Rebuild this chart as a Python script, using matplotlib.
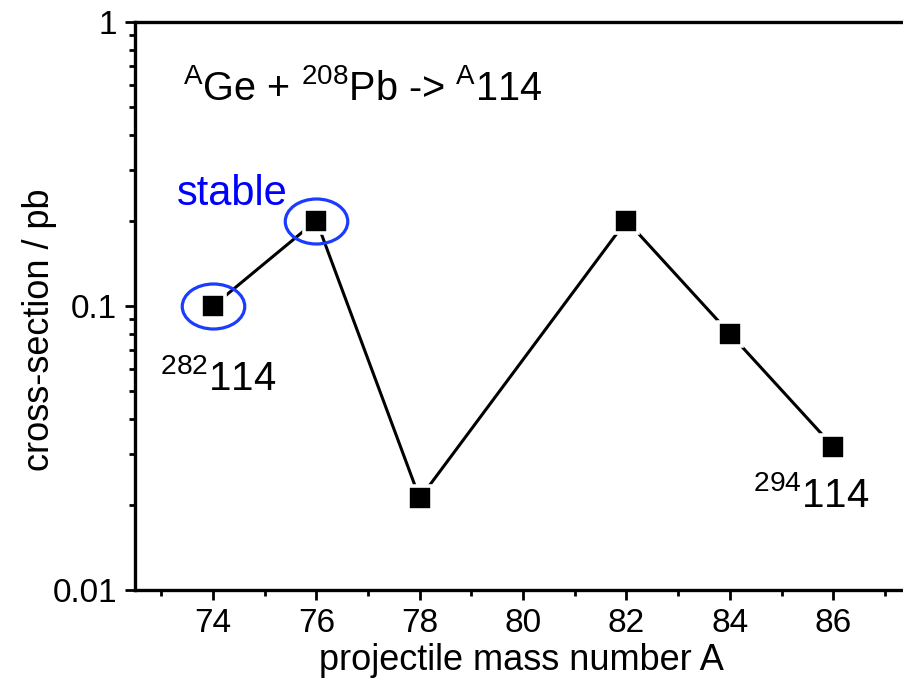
import numpy as np
import matplotlib
matplotlib.use("Agg")
import matplotlib.pyplot as plt
from matplotlib.path import Path
from matplotlib.transforms import Affine2D
from matplotlib.ticker import FixedLocator, LogLocator, NullFormatter

plt.rcParams['font.family'] = ['Liberation Sans', 'DejaVu Sans']
plt.rcParams['mathtext.fontset'] = 'custom'
plt.rcParams['mathtext.rm'] = 'Liberation Sans'
plt.rcParams['mathtext.default'] = 'regular'

# donnees
masse = [74, 76, 78, 82, 84, 86]
section = [0.1, 0.2, 0.021, 0.2, 0.08, 0.032]
stable_masse = [74, 76]
stable_section = [0.1, 0.2]
xticks = [74, 76, 78, 80, 82, 84, 86]

fig = plt.figure(figsize=(9.04, 6.91), dpi=100)
ax = fig.add_axes([135/904, 1-590/691, 1-135/904, 568/691])

# courbe + carres noirs (bord blanc pour le petit espace)
ax.plot(masse, section, '-', color='black', lw=2.2, zorder=2)
ax.plot(masse, section, 's', color='black', ms=17.5, mec='white', mew=2.6, zorder=3)

# ellipses bleues autour des noyaux stables
ell = Path.unit_circle().transformed(Affine2D().scale(1.0, 0.72))
ax.plot(stable_masse, stable_section, ls='none', marker=ell, ms=45,
        mfc='none', mec='#1a3cff', mew=2.3, zorder=4)

ax.set_yscale('log')
ax.set_ylim(0.01, 1)
ax.set_xlim(72.49, 87.37)

ax.xaxis.set_major_locator(FixedLocator(xticks))
ax.xaxis.set_minor_locator(FixedLocator([73, 75, 77, 79, 81, 83, 85, 87]))
ax.yaxis.set_major_locator(FixedLocator([0.01, 0.1, 1]))
ax.yaxis.set_minor_locator(LogLocator(base=10, subs=np.arange(2, 10)))
ax.yaxis.set_minor_formatter(NullFormatter())
ax.set_yticklabels(['0.01', '0.1', '1'])

ax.tick_params(which='major', direction='out', length=7, width=2, labelsize=24, pad=6)
ax.tick_params(which='minor', direction='out', length=4.5, width=2)
ax.tick_params(top=False, right=False)

for s in ['left', 'bottom', 'top']:
    ax.spines[s].set_linewidth(2.4)
ax.spines['right'].set_visible(False)

ax.set_xlabel('projectile mass number A', fontsize=26)
ax.set_ylabel('cross-section / pb', fontsize=26)
ax.xaxis.set_label_coords(0.502, -0.093)
ax.yaxis.set_label_coords(-0.101, 0.458)

ax.text(0.062, 0.863, '$^{A}$Ge + $^{208}$Pb -> $^{A}$114', fontsize=28.5,
        transform=ax.transAxes, va='baseline')
ax.text(0.054, 0.678, 'stable', fontsize=30, color='#0000ff',
        transform=ax.transAxes, va='baseline')
ax.text(0.0325, 0.352, '$^{282}$114', fontsize=29,
        transform=ax.transAxes, va='baseline')
ax.text(0.804, 0.146, '$^{294}$114', fontsize=29,
        transform=ax.transAxes, va='baseline')

fig.savefig('out.png', dpi=100)
